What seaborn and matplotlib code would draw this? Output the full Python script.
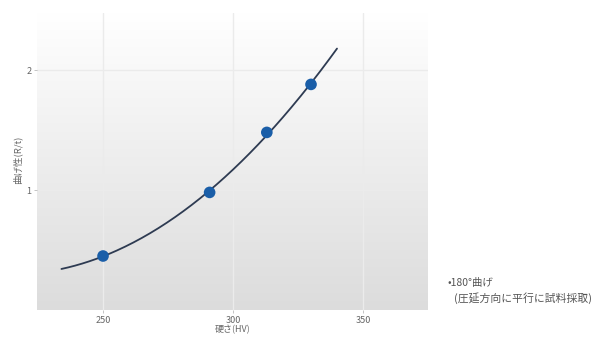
import numpy as np
import pandas as pd
import matplotlib
matplotlib.use("Agg")
import matplotlib.pyplot as plt
import seaborn as sns

# Hardness vs. bendability measurements
hardness = [250, 291, 313, 330]
bend_rt = [0.45, 0.98, 1.48, 1.88]
fit_range = [234, 340]
x_ticks = [250, 300, 350]
y_ticks = [1, 2]

sns.set_theme(style="white")
plt.rcParams["font.family"] = ["Noto Sans CJK JP", "DejaVu Sans"]

fig = plt.figure(figsize=(5.94, 3.38), dpi=100)
ax = fig.add_axes([37 / 594, 1 - 310 / 338, (428 - 37) / 594, (310 - 13) / 338])

# vertical gradient panel background: white at top, light grey at bottom
grad = np.linspace(0.0, 1.0, 256).reshape(-1, 1)
cmap = matplotlib.colors.LinearSegmentedColormap.from_list("bg", ["#ffffff", "#dcdcdc"])
ax.imshow(grad, cmap=cmap, aspect="auto", extent=[0, 1, 0, 1],
          transform=ax.transAxes, zorder=0, interpolation="bicubic")

df = pd.DataFrame({"hardness": hardness, "bend": bend_rt})

# quadratic trend line over the fit range
coef = np.polyfit(df["hardness"], df["bend"], 2)
xs = np.linspace(fit_range[0], fit_range[1], 200)
trend = pd.DataFrame({"hardness": xs, "bend": np.polyval(coef, xs)})
sns.lineplot(data=trend, x="hardness", y="bend", ax=ax, color="#2e3b52",
             linewidth=1.3, zorder=3)
sns.scatterplot(data=df, x="hardness", y="bend", ax=ax, color="#1a5ea8",
                s=70, edgecolor="none", zorder=4)

ax.set_xlim(224.6, 375)
ax.set_ylim(0, 2.475)
ax.set_xticks(x_ticks)
ax.set_yticks(y_ticks)
ax.grid(True, color="#ebebeb", linewidth=1.0, zorder=1)
ax.set_axisbelow(True)
for s in ax.spines.values():
    s.set_visible(False)
ax.tick_params(axis="both", length=2.5, width=0.6, color="#bbbbbb",
               labelsize=6.5, labelcolor="#666666", pad=1.5, bottom=True, left=True)

ax.set_xlabel("")
ax.set_ylabel("")
fig.text(233 / 594, 1 - 330 / 338, "硬さ(HV)", fontsize=6.5, color="#666666",
         va="center", ha="center")
fig.text(17 / 594, 1 - 160 / 338, "曲げ性(R/t)", fontsize=6.8, color="#666666",
         va="center", ha="center", rotation=90)

fig.text(447 / 594, 1 - 283 / 338, "•180°曲げ", fontsize=7.5, color="#555555",
         va="center", ha="left")
fig.text(454 / 594, 1 - 298 / 338, "(圧延方向に平行に試料採取)", fontsize=7.8,
         color="#555555", va="center", ha="left")

fig.savefig("out.png", dpi=100)
